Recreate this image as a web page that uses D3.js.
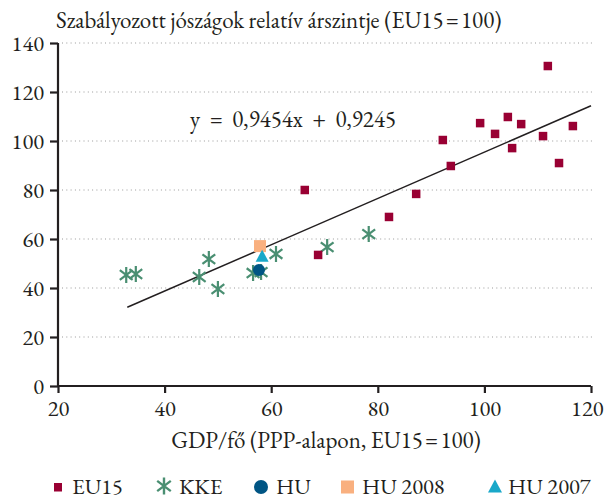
<!DOCTYPE html>
<html><head><meta charset="utf-8">
<script src="https://cdn.jsdelivr.net/npm/d3@7"></script>
<style>body{margin:0;background:#fff;}</style></head>
<body><svg id="c" width="606" height="501"></svg>
<script>
const eu15X = [111.9, 66.3, 68.8, 82.1, 87.2, 92.2, 93.7, 99.2, 102.0, 104.4, 105.2, 106.9, 111.0, 114.0, 116.6];
const eu15Y = [130.6, 80.0, 53.5, 69.0, 78.4, 100.4, 89.8, 107.3, 102.9, 109.8, 97.1, 106.9, 102.0, 91.0, 106.1];
const kkeX = [32.8, 34.6, 46.5, 48.3, 50.0, 56.6, 58.1, 60.9, 70.5, 78.3];
const kkeY = [45.3, 45.7, 44.5, 51.8, 39.6, 46.1, 46.5, 53.9, 56.7, 62.0];
const huX = [57.7], huY = [47.3];
const hu2008X = [57.9], hu2008Y = [57.1];
const hu2007X = [58.3], hu2007Y = [52.8];
const trend = {slope: 0.9454, intercept: 0.9245, from: 33, to: 120};
const xTicks = [20, 40, 60, 80, 100, 120];
const yTicks = [0, 20, 40, 60, 80, 100, 120, 140];
const titleText = "Szabályozott jószágok relatív árszintje (EU15\u2009=\u2009100)";
const xLabel = "GDP/fő (PPP-alapon, EU15\u2009=\u2009100)";
const eqText = "y = 0,9454x + 0,9245";
const legendNames = ["EU15", "KKE", "HU", "HU 2008", "HU 2007"];

const FONT = '"EB Garamond", "Liberation Serif", serif';
const C = {eu: "#990033", kke: "#4a8f72", hu: "#005584", h08: "#f9b07f", h07: "#19a8c9", axis: "#231f20"};
const svg = d3.select("#c");
const x = d3.scaleLinear().domain([20, 120]).range([58, 591]);
const y = d3.scaleLinear().domain([0, 140]).range([386, 43]);

svg.append("g").selectAll("line").data(yTicks.filter(d => d > 0)).join("line")
  .attr("x1", x(20) + 4).attr("x2", 592).attr("y1", d => y(d)).attr("y2", d => y(d))
  .attr("stroke", "#9a9a9a").attr("stroke-width", 1).attr("stroke-dasharray", "1,3.3");

const yAx = svg.append("g").attr("transform", `translate(${x(20)},0)`)
  .call(d3.axisLeft(y).tickValues(yTicks).tickSize(8).tickPadding(6).tickFormat(d3.format("d")));
const xAx = svg.append("g").attr("transform", `translate(0,${y(0)})`)
  .call(d3.axisBottom(x).tickValues(xTicks).tickSize(7).tickPadding(7).tickFormat(d3.format("d")));
[yAx, xAx].forEach(g => {
  g.select(".domain").attr("stroke", C.axis).attr("stroke-width", 2.2);
  g.selectAll(".tick line").attr("stroke", C.axis).attr("stroke-width", 2.2);
  g.selectAll("text").style("font-family", FONT).style("font-size", "22.5px").attr("fill", C.axis);
});
// keep the last x label inside the picture
xAx.selectAll(".tick text").filter(d => d === 120).attr("text-anchor", "end").attr("x", 603 - x(120));
yAx.select(".domain").attr("d", `M0,${y(140)}V${y(0) + 1}`);
xAx.select(".domain").attr("d", `M${x(20) - 1},0H${x(120)}`);

svg.append("line")
  .attr("x1", x(trend.from)).attr("y1", y(trend.slope * trend.from + trend.intercept))
  .attr("x2", x(trend.to)).attr("y2", y(trend.slope * trend.to + trend.intercept))
  .attr("stroke", "#231f20").attr("stroke-width", 1.5);

function star(s) {
  const a = s, b = s * 0.8, c = s * 0.6;
  return `M0,${-a}V${a}M${-b},${-c}L${b},${c}M${-b},${c}L${b},${-c}`;
}

svg.append("g").selectAll("path").data(kkeX.map((d, i) => [d, kkeY[i]])).join("path")
  .attr("transform", d => `translate(${x(d[0])},${y(d[1])})`)
  .attr("d", star(8)).attr("stroke", C.kke).attr("stroke-width", 2.2).attr("fill", "none");

svg.append("g").selectAll("rect").data(eu15X.map((d, i) => [d, eu15Y[i]])).join("rect")
  .attr("x", d => x(d[0]) - 4.25).attr("y", d => y(d[1]) - 4.25).attr("width", 8.5).attr("height", 8.5)
  .attr("fill", C.eu);

svg.append("g").selectAll("rect").data(hu2008X.map((d, i) => [d, hu2008Y[i]])).join("rect")
  .attr("x", d => x(d[0]) - 6).attr("y", d => y(d[1]) - 6).attr("width", 12).attr("height", 12)
  .attr("fill", C.h08);
svg.append("g").selectAll("path").data(hu2007X.map((d, i) => [d, hu2007Y[i]])).join("path")
  .attr("transform", d => `translate(${x(d[0])},${y(d[1])})`)
  .attr("d", "M0,-7L6.5,5L-6.5,5Z").attr("fill", C.h07);
svg.append("g").selectAll("circle").data(huX.map((d, i) => [d, huY[i]])).join("circle")
  .attr("cx", d => x(d[0])).attr("cy", d => y(d[1])).attr("r", 6).attr("fill", C.hu);

function txt(xp, yp, s, size, anchor) {
  return svg.append("text").attr("x", xp).attr("y", yp).attr("text-anchor", anchor || "start")
    .style("font-family", FONT).style("font-size", size + "px").attr("fill", C.axis).text(s);
}
txt(56, 28, titleText, 23);
txt(326, 448, xLabel, 23, "middle");
txt(293, 127, eqText, 23, "middle").style("word-spacing", "5px");

const ly = 487;
const items = [
  {sym: "sq", color: C.eu, sx: 58, tx: 72},
  {sym: "star", color: C.kke, sx: 164, tx: 179},
  {sym: "circle", color: C.hu, sx: 261, tx: 276},
  {sym: "sq2", color: C.h08, sx: 347.5, tx: 362},
  {sym: "tri", color: C.h07, sx: 495, tx: 508}
];
const lg = svg.append("g");
items.forEach((it, i) => {
  if (it.sym === "sq") lg.append("rect").attr("x", it.sx - 4).attr("y", ly - 4).attr("width", 8).attr("height", 8.5).attr("fill", it.color);
  if (it.sym === "star") lg.append("path").attr("transform", `translate(${it.sx},${ly - 1})`).attr("d", star(8.5)).attr("stroke", it.color).attr("stroke-width", 2.4).attr("fill", "none");
  if (it.sym === "circle") lg.append("circle").attr("cx", it.sx).attr("cy", ly).attr("r", 7).attr("fill", it.color);
  if (it.sym === "sq2") lg.append("rect").attr("x", it.sx - 6.5).attr("y", ly - 6.5).attr("width", 13).attr("height", 13).attr("fill", it.color);
  if (it.sym === "tri") lg.append("path").attr("transform", `translate(${it.sx},${ly})`).attr("d", "M0,-7.5L7,5.5L-7,5.5Z").attr("fill", it.color);
  txt(it.tx, ly + 7, legendNames[i], 22.5);
});
</script></body></html>
